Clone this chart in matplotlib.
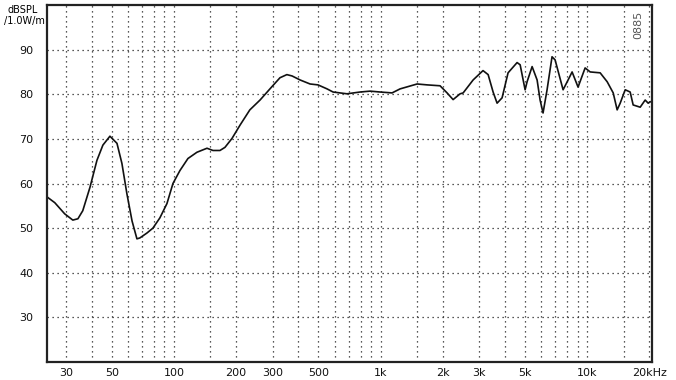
import matplotlib
matplotlib.use("Agg")
import matplotlib.pyplot as plt

freq_hz = [24.3, 26.5, 29.6, 32.4, 34.3, 36.2, 39.2, 42.4, 45.3, 49.0, 53.0, 56.0,
           59.2, 62.7, 66.2, 68.4, 74.0, 79.1, 85.5, 92.5, 98.9, 106.9, 116.9, 129.2,
           144.5, 154.5, 167, 176.6, 191, 209, 233, 261, 298, 326, 352, 373, 408,
           456, 498, 551, 589, 688, 796, 890, 995, 1137, 1243, 1503, 1680, 1941,
           2099, 2245, 2427, 2511, 2806, 3133, 3317, 3506, 3665, 3875, 4142, 4580,
           4739, 5008, 5120, 5415, 5725, 5919, 6117, 6397, 6761, 6996, 7648, 8087,
           8456, 9036, 9776, 10340, 11560, 12500, 13370, 13970, 14450, 15280, 16150,
           16700, 18060, 19090, 19740, 20200]
spl_db = [57.0, 55.7, 53.2, 51.8, 52.1, 53.9, 59.1, 65.2, 68.6, 70.6, 69.0, 64.5,
          57.7, 51.6, 47.6, 47.8, 48.9, 50.0, 52.3, 55.5, 60.0, 62.9, 65.6, 67.0,
          67.9, 67.4, 67.4, 68.1, 70.1, 73.1, 76.5, 78.7, 81.7, 83.7, 84.4, 84.1,
          83.2, 82.3, 82.1, 81.2, 80.5, 80.1, 80.5, 80.7, 80.5, 80.3, 81.2, 82.3,
          82.1, 81.9, 80.3, 78.8, 80.1, 80.3, 83.2, 85.3, 84.4, 80.5, 78.0, 79.2,
          84.8, 87.1, 86.6, 81.0, 82.8, 86.2, 83.2, 78.7, 75.8, 81.0, 88.4, 87.7,
          81.0, 83.2, 85.0, 81.6, 85.9, 85.0, 84.8, 82.8, 80.3, 76.5, 78.0, 81.0,
          80.5, 77.6, 77.1, 78.7, 78.0, 78.3]

x_tick_vals = [30, 50, 100, 200, 300, 500, 1000, 2000, 3000, 5000, 10000, 20000]
x_tick_labels = ["30", "50", "100", "200", "300", "500", "1k", "2k", "3k", "5k", "10k", "20kHz"]
x_grid_minor = [40, 60, 70, 80, 90, 150, 400, 600, 700, 800, 900, 1500,
                4000, 6000, 7000, 8000, 9000, 15000]
y_tick_vals = [30, 40, 50, 60, 70, 80, 90]

fig = plt.figure(figsize=(6.76, 3.80), dpi=100)
ax = fig.add_axes([47/676, 18/380, 605/676, 357/380])
ax.plot(freq_hz, spl_db, color="#111111", lw=1.2)
ax.set_xscale("log")
ax.set_xlim(24.3, 20600)
ax.set_ylim(20, 100)
ax.set_xticks(x_tick_vals)
ax.set_xticklabels(x_tick_labels)
ax.set_xticks(x_grid_minor, minor=True)
ax.set_xticklabels([], minor=True)
ax.set_yticks(y_tick_vals)
ax.set_yticklabels([str(v) for v in y_tick_vals])
ax.tick_params(axis="both", which="both", length=0, labelsize=8, colors="#111111")
ax.tick_params(axis="x", pad=4)
ax.tick_params(axis="y", pad=10)
ax.grid(True, which="both", axis="x", linestyle=(0, (1, 3)), color="#222222", lw=0.9)
ax.grid(True, which="major", axis="y", linestyle=(0, (1, 3)), color="#222222", lw=0.9)
for s in ax.spines.values():
    s.set_linewidth(1.6)
    s.set_color("#222222")
fig.text(8/676, 1 - 10/380, "dBSPL", fontsize=7, va="center", ha="left")
fig.text(4/676, 1 - 21/380, "/1.0W/m", fontsize=7, va="center", ha="left")
ax.text(0.985, 0.985, "0885", transform=ax.transAxes, rotation=90, fontsize=8,
        ha="right", va="top", color="#555555")
fig.savefig("out.png", dpi=100, facecolor="white")
